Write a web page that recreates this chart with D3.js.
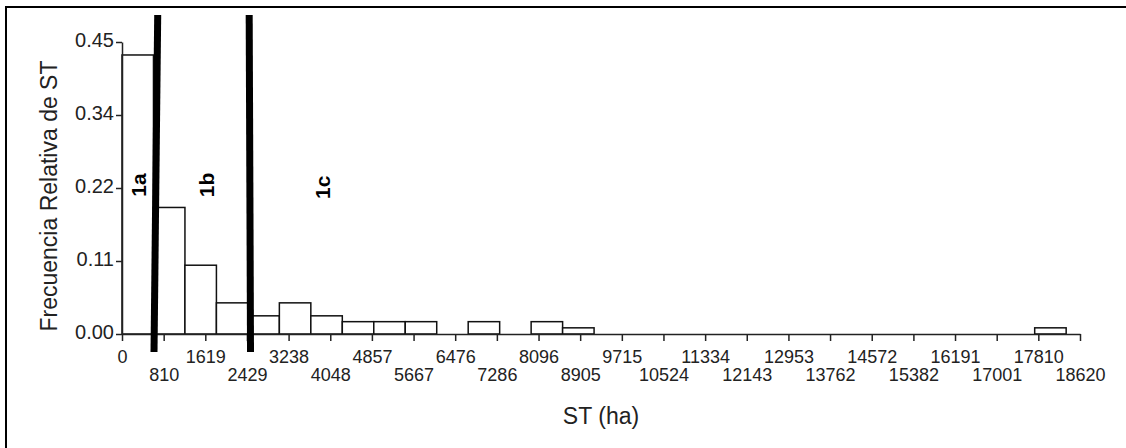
<!DOCTYPE html>
<html>
<head>
<meta charset="utf-8">
<script src="https://cdn.jsdelivr.net/npm/d3@7"></script>
<style>
  body { margin: 0; background: #fff; }
  svg { display: block; font-family: "Liberation Sans", Arial, sans-serif; }
</style>
</head>
<body>
<div id="chart"></div>
<script>
// Histogram of ST (ha), relative frequency per bin
var binWidth = 611.7;
var freq = [0.43, 0.195, 0.106, 0.048, 0.028, 0.048, 0.028, 0.019, 0.019, 0.019,
            0, 0.019, 0, 0.019, 0.0095, 0, 0, 0, 0, 0,
            0, 0, 0, 0, 0, 0, 0, 0, 0, 0.0095];

var xTicks = [0, 810, 1619, 2429, 3238, 4048, 4857, 5667, 6476, 7286, 8096, 8905,
              9715, 10524, 11334, 12143, 12953, 13762, 14572, 15382, 16191, 17001, 17810, 18620];
var yTicks = [0, 0.1125, 0.225, 0.3375, 0.45];
var yTickLabels = ["0.00", "0.11", "0.22", "0.34", "0.45"];

// thick separator lines between groups (top and bottom ends, data units)
var dividers = [
    {x0: 694, y0: 0.4916, x1: 622, y1: -0.0277},
    {x0: 2472, y0: 0.4916, x1: 2498, y1: -0.0277}
];
var groups = [
    {name: "1a", x: 321, y: 0.2296},
    {name: "1b", x: 1633, y: 0.2296},
    {name: "1c", x: 3897, y: 0.226}
];

var W = 1126, H = 448;

var svg = d3.select("#chart").append("svg")
    .attr("width", W)
    .attr("height", H);

// frame
svg.append("path")
    .attr("d", "M6,450 L6,7 L1130,7")
    .attr("fill", "none")
    .attr("stroke", "#000")
    .attr("stroke-width", 2);

var x = d3.scaleLinear().domain([0, 18620]).range([122, 1080]);
var y = d3.scaleLinear().domain([0, 0.45]).range([334, 42]);

// bars
svg.append("g").selectAll("rect")
    .data(freq.map(function (d, i) { return {i: i, v: d}; }).filter(function (d) { return d.v > 0; }))
    .enter().append("rect")
    .attr("x", function (d) { return x(d.i * binWidth); })
    .attr("width", function (d) { return x(binWidth) - x(0); })
    .attr("y", function (d) { return y(d.v); })
    .attr("height", function (d) { return y(0) - y(d.v); })
    .attr("fill", "#fff")
    .attr("stroke", "#111")
    .attr("stroke-width", 1.5);

// x axis
var xAxis = svg.append("g")
    .attr("transform", "translate(0," + y(0) + ")")
    .call(d3.axisBottom(x).tickValues(xTicks).tickSize(7).tickSizeOuter(0)
        .tickFormat(function (d) { return d; }));
xAxis.select(".domain").attr("stroke", "#222").attr("stroke-width", 1.5);
xAxis.selectAll(".tick line").attr("stroke", "#222").attr("stroke-width", 1.5);
xAxis.selectAll(".tick text")
    .attr("font-size", "18px")
    .attr("fill", "#222")
    .attr("dy", null)
    .attr("y", function (d, i) { return i % 2 === 0 ? 29 : 47; });

// y axis
var yAxis = svg.append("g")
    .attr("transform", "translate(" + x(0) + ",0)")
    .call(d3.axisLeft(y).tickValues(yTicks).tickSize(6).tickSizeOuter(0)
        .tickFormat(function (d, i) { return yTickLabels[i]; }));
yAxis.select(".domain").attr("stroke", "#222").attr("stroke-width", 1.5);
yAxis.selectAll(".tick line").attr("stroke", "#222").attr("stroke-width", 1.5);
yAxis.selectAll(".tick text")
    .attr("font-size", "20px")
    .attr("fill", "#222")
    .attr("x", -8)
    .attr("dy", "0.2em");

// dividers
svg.append("g").selectAll("line")
    .data(dividers)
    .enter().append("line")
    .attr("x1", function (d) { return x(d.x0); })
    .attr("y1", function (d) { return y(d.y0); })
    .attr("x2", function (d) { return x(d.x1); })
    .attr("y2", function (d) { return y(d.y1); })
    .attr("stroke", "#000")
    .attr("stroke-width", 7);

// group labels
svg.append("g").selectAll("text")
    .data(groups)
    .enter().append("text")
    .attr("transform", function (d) { return "translate(" + x(d.x) + "," + y(d.y) + ") rotate(-90)"; })
    .attr("text-anchor", "middle")
    .attr("dy", "0.36em")
    .attr("font-size", "21px")
    .attr("font-weight", "bold")
    .attr("fill", "#000")
    .text(function (d) { return d.name; });

// axis titles
svg.append("text")
    .attr("transform", "translate(57,196) rotate(-90)")
    .attr("text-anchor", "middle")
    .attr("font-size", "23px")
    .attr("fill", "#222")
    .text("Frecuencia Relativa de ST");

svg.append("text")
    .attr("x", 601)
    .attr("y", 424)
    .attr("text-anchor", "middle")
    .attr("font-size", "23px")
    .attr("fill", "#222")
    .text("ST (ha)");
</script>
</body>
</html>
